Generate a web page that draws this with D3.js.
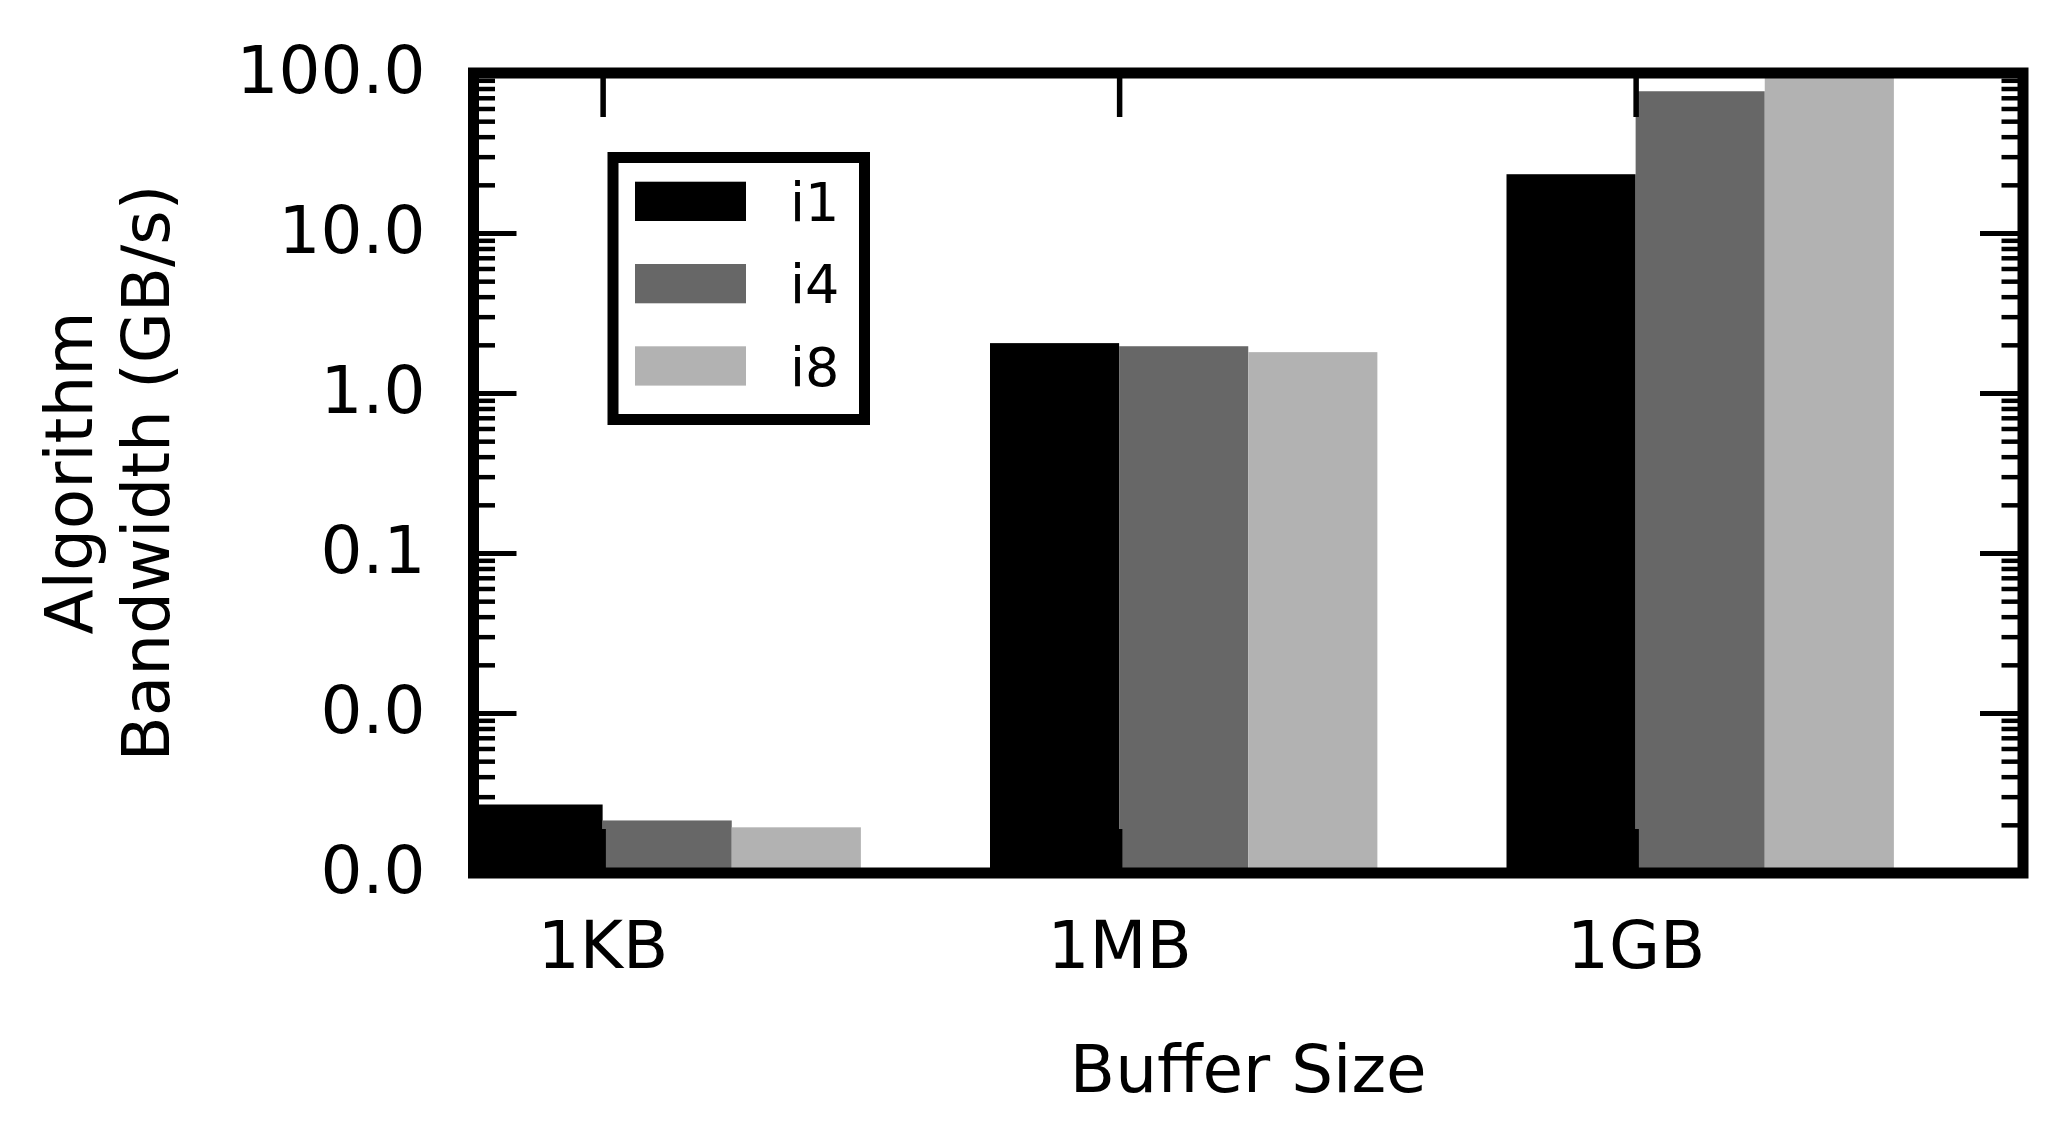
<!DOCTYPE html>
<html>
<head>
<meta charset="utf-8">
<script src="https://cdn.jsdelivr.net/npm/d3@7"></script>
<style>
  body { margin: 0; background: #fff; }
  text { font-family: "DejaVu Sans", sans-serif; fill: #000; }
</style>
</head>
<body>
<div id="chart"></div>
<script>
var categories = ["1KB", "1MB", "1GB"];
var seriesNames = ["i1", "i4", "i8"];
var seriesColors = ["#000000", "#676767", "#b2b2b2"];
var i1 = [0.00268, 2.05, 23.3];
var i4 = [0.00213, 1.96, 76.9];
var i8 = [0.00193, 1.80, 100];
var yTicks = [0.001, 0.01, 0.1, 1, 10, 100];
var yTickLabels = ["0.0", "0.0", "0.1", "1.0", "10.0", "100.0"];

var values = [i1, i4, i8];
var W = 2063, H = 1145;
// plot box (spine centres)
var box = { left: 473.5, right: 2023, top: 73, bottom: 873 };
var barW = 0.25;

var svg = d3.select("#chart").append("svg")
  .attr("width", W).attr("height", H);

var x = d3.scaleLinear().domain([0, 3]).range([box.left, box.right]);
var y = d3.scaleLog().domain([0.001, 100]).range([box.bottom, box.top]);

svg.append("clipPath").attr("id", "clip")
  .append("rect").attr("x", box.left).attr("y", box.top)
  .attr("width", box.right - box.left).attr("height", box.bottom - box.top);

// bars
var bars = svg.append("g").attr("clip-path", "url(#clip)");
values.forEach(function (vals, j) {
  bars.selectAll(".b" + j)
    .data(vals)
    .enter()
    .append("rect")
    .attr("x", function (d, i) { return x(i + j * barW); })
    .attr("width", x(barW) - x(0))
    .attr("y", function (d) { return y(d); })
    .attr("height", function (d) { return y(0.001) - y(d); })
    .attr("fill", seriesColors[j]);
});

// minor ticks (log 2..9)
var minor = [];
yTicks.slice(0, -1).forEach(function (t) {
  for (var k = 2; k <= 9; k++) minor.push(t * k);
});

function styleTicks(g, w) {
  g.select(".domain").remove();
  g.selectAll(".tick line").attr("stroke", "#000").attr("stroke-width", w);
}

svg.append("g").attr("transform", "translate(" + box.left + ",0)")
  .call(d3.axisLeft(y).tickValues(minor).tickSize(-21.5).tickFormat(""))
  .call(styleTicks, 4.5);
svg.append("g").attr("transform", "translate(" + box.right + ",0)")
  .call(d3.axisRight(y).tickValues(minor).tickSize(-21.5).tickFormat(""))
  .call(styleTicks, 4.5);

var yl = svg.append("g").attr("transform", "translate(" + box.left + ",0)")
  .call(d3.axisLeft(y).tickValues(yTicks).tickSize(-43).tickPadding(48)
    .tickFormat(function (d, i) { return yTickLabels[i]; }))
  .call(styleTicks, 5);
yl.selectAll("text").attr("font-size", 66).attr("dy", "0.29em")
  .style("font-family", "DejaVu Sans");

svg.append("g").attr("transform", "translate(" + box.right + ",0)")
  .call(d3.axisRight(y).tickValues(yTicks).tickSize(-43).tickFormat(""))
  .call(styleTicks, 5);

var xTicks = categories.map(function (c, i) { return i + barW; });
var xb = svg.append("g").attr("transform", "translate(0," + box.bottom + ")")
  .call(d3.axisBottom(x).tickValues(xTicks).tickSize(-44)
    .tickFormat(function (d, i) { return categories[i]; }))
  .call(styleTicks, 5.5);
xb.selectAll("text").attr("font-size", 66).attr("y", 95).attr("dy", 0)
  .style("font-family", "DejaVu Sans");

svg.append("g").attr("transform", "translate(0," + box.top + ")")
  .call(d3.axisTop(x).tickValues(xTicks).tickSize(-44).tickFormat(""))
  .call(styleTicks, 5.5);

// frame
svg.append("rect")
  .attr("x", box.left).attr("y", box.top)
  .attr("width", box.right - box.left).attr("height", box.bottom - box.top)
  .attr("fill", "none").attr("stroke", "#000").attr("stroke-width", 11);

// axis labels
svg.append("text")
  .attr("x", (box.left + box.right) / 2).attr("y", 1092)
  .attr("text-anchor", "middle").attr("font-size", 66)
  .text("Buffer Size");

var ylab = svg.append("text")
  .attr("transform", "translate(0," + (box.top + box.bottom) / 2 + ") rotate(-90)")
  .attr("text-anchor", "middle").attr("font-size", 66);
ylab.append("tspan").attr("x", 0).attr("y", 91.7).text("Algorithm");
ylab.append("tspan").attr("x", 0).attr("y", 169.3).text("Bandwidth (GB/s)");

// legend
var lg = svg.append("g");
lg.append("rect")
  .attr("x", 613).attr("y", 157.5).attr("width", 251.5).attr("height", 262)
  .attr("fill", "#fff").attr("stroke", "#000").attr("stroke-width", 11);
seriesNames.forEach(function (s, j) {
  var yy = 181.7 + j * 82.3;
  lg.append("rect").attr("x", 635).attr("y", yy)
    .attr("width", 111).attr("height", 39.3).attr("fill", seriesColors[j]);
  lg.append("text").attr("x", 790).attr("y", yy + 39.3)
    .attr("font-size", 54).text(s);
});
</script>
</body>
</html>
